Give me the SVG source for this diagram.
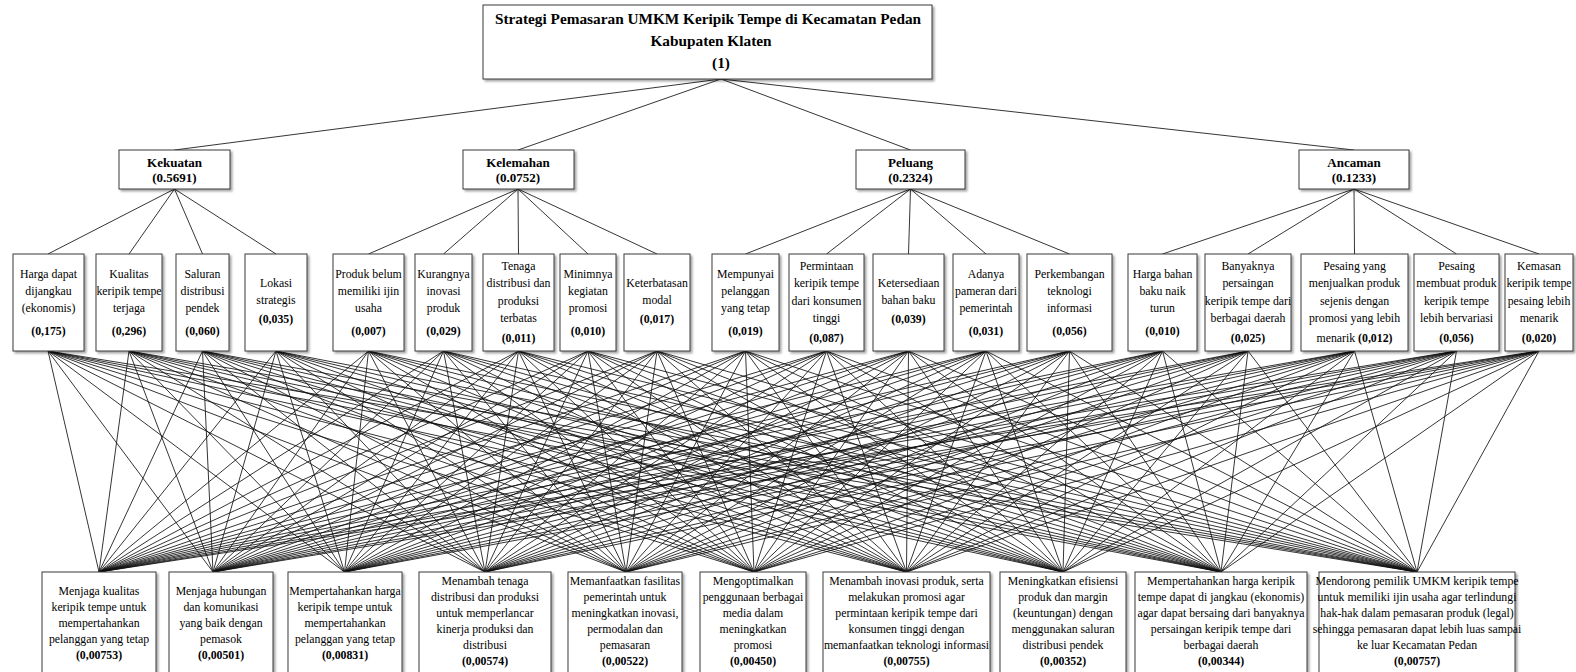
<svg xmlns="http://www.w3.org/2000/svg" width="1576" height="672" viewBox="0 0 1576 672">
<defs>
<filter id="sh" x="-10%" y="-10%" width="130%" height="130%">
<feDropShadow dx="2" dy="2" stdDeviation="1" flood-color="#000" flood-opacity="0.35"/>
</filter>
<style>
.box{fill:#fff;stroke:#3a3a3a;stroke-width:1;filter:url(#sh)}
text{font-family:"Liberation Serif","Times New Roman",serif;fill:#000;text-anchor:middle}
.r{font-size:15.3px;font-weight:bold}
.l1{font-size:13px;font-weight:bold}
.t{font-size:11.8px}
.b{font-weight:bold}
.c{fill:none;stroke:#111;stroke-width:0.85}
</style>
</defs>
<rect width="1576" height="672" fill="#fff"/>

<g id="connectors" class="c">
<path d="M721 79L174.5 150M721 79L518 150M721 79L910.5 150M721 79L1354 150"/>
<path d="M174.5 189L48 254M174.5 189L129 254M174.5 189L202.5 254M174.5 189L276 254"/>
<path d="M518 189L368.5 254M518 189L443.5 254M518 189L518.5 254M518 189L588 254M518 189L657 254"/>
<path d="M910.5 189L745.5 254M910.5 189L826.5 254M910.5 189L908.5 254M910.5 189L986 254M910.5 189L1069.5 254"/>
<path d="M1354 189L1162.5 254M1354 189L1248 254M1354 189L1354.5 254M1354 189L1456.5 254M1354 189L1539 254"/>
<path d="M48 351L99 572M48 351L213 572M48 351L344.5 572M48 351L485 572M48 351L626 572M48 351L754 572M48 351L906.5 572M48 351L1063 572M48 351L1221 572M48 351L1417 572"/>
<path d="M129 351L99 572M129 351L213 572M129 351L344.5 572M129 351L485 572M129 351L626 572M129 351L754 572M129 351L906.5 572M129 351L1063 572M129 351L1221 572M129 351L1417 572"/>
<path d="M202.5 351L99 572M202.5 351L213 572M202.5 351L344.5 572M202.5 351L485 572M202.5 351L626 572M202.5 351L754 572M202.5 351L906.5 572M202.5 351L1063 572M202.5 351L1221 572M202.5 351L1417 572"/>
<path d="M276 351L99 572M276 351L213 572M276 351L344.5 572M276 351L485 572M276 351L626 572M276 351L754 572M276 351L906.5 572M276 351L1063 572M276 351L1221 572M276 351L1417 572"/>
<path d="M368.5 351L99 572M368.5 351L213 572M368.5 351L344.5 572M368.5 351L485 572M368.5 351L626 572M368.5 351L754 572M368.5 351L906.5 572M368.5 351L1063 572M368.5 351L1221 572M368.5 351L1417 572"/>
<path d="M443.5 351L99 572M443.5 351L213 572M443.5 351L344.5 572M443.5 351L485 572M443.5 351L626 572M443.5 351L754 572M443.5 351L906.5 572M443.5 351L1063 572M443.5 351L1221 572M443.5 351L1417 572"/>
<path d="M518.5 351L99 572M518.5 351L213 572M518.5 351L344.5 572M518.5 351L485 572M518.5 351L626 572M518.5 351L754 572M518.5 351L906.5 572M518.5 351L1063 572M518.5 351L1221 572M518.5 351L1417 572"/>
<path d="M588 351L99 572M588 351L213 572M588 351L344.5 572M588 351L485 572M588 351L626 572M588 351L754 572M588 351L906.5 572M588 351L1063 572M588 351L1221 572M588 351L1417 572"/>
<path d="M657 351L99 572M657 351L213 572M657 351L344.5 572M657 351L485 572M657 351L626 572M657 351L754 572M657 351L906.5 572M657 351L1063 572M657 351L1221 572M657 351L1417 572"/>
<path d="M745.5 351L99 572M745.5 351L213 572M745.5 351L344.5 572M745.5 351L485 572M745.5 351L626 572M745.5 351L754 572M745.5 351L906.5 572M745.5 351L1063 572M745.5 351L1221 572M745.5 351L1417 572"/>
<path d="M826.5 351L99 572M826.5 351L213 572M826.5 351L344.5 572M826.5 351L485 572M826.5 351L626 572M826.5 351L754 572M826.5 351L906.5 572M826.5 351L1063 572M826.5 351L1221 572M826.5 351L1417 572"/>
<path d="M908.5 351L99 572M908.5 351L213 572M908.5 351L344.5 572M908.5 351L485 572M908.5 351L626 572M908.5 351L754 572M908.5 351L906.5 572M908.5 351L1063 572M908.5 351L1221 572M908.5 351L1417 572"/>
<path d="M986 351L99 572M986 351L213 572M986 351L344.5 572M986 351L485 572M986 351L626 572M986 351L754 572M986 351L906.5 572M986 351L1063 572M986 351L1221 572M986 351L1417 572"/>
<path d="M1069.5 351L99 572M1069.5 351L213 572M1069.5 351L344.5 572M1069.5 351L485 572M1069.5 351L626 572M1069.5 351L754 572M1069.5 351L906.5 572M1069.5 351L1063 572M1069.5 351L1221 572M1069.5 351L1417 572"/>
<path d="M1162.5 351L99 572M1162.5 351L213 572M1162.5 351L344.5 572M1162.5 351L485 572M1162.5 351L626 572M1162.5 351L754 572M1162.5 351L906.5 572M1162.5 351L1063 572M1162.5 351L1221 572M1162.5 351L1417 572"/>
<path d="M1248 351L99 572M1248 351L213 572M1248 351L344.5 572M1248 351L485 572M1248 351L626 572M1248 351L754 572M1248 351L906.5 572M1248 351L1063 572M1248 351L1221 572M1248 351L1417 572"/>
<path d="M1354.5 351L99 572M1354.5 351L213 572M1354.5 351L344.5 572M1354.5 351L485 572M1354.5 351L626 572M1354.5 351L754 572M1354.5 351L906.5 572M1354.5 351L1063 572M1354.5 351L1221 572M1354.5 351L1417 572"/>
<path d="M1456.5 351L99 572M1456.5 351L213 572M1456.5 351L344.5 572M1456.5 351L485 572M1456.5 351L626 572M1456.5 351L754 572M1456.5 351L906.5 572M1456.5 351L1063 572M1456.5 351L1221 572M1456.5 351L1417 572"/>
<path d="M1539 351L99 572M1539 351L213 572M1539 351L344.5 572M1539 351L485 572M1539 351L626 572M1539 351L754 572M1539 351L906.5 572M1539 351L1063 572M1539 351L1221 572M1539 351L1417 572"/>
</g>

<g id="goal">
<rect class="box" x="483" y="5" width="449" height="74"/>
<text class="r" x="708" y="23.5">Strategi Pemasaran UMKM Keripik Tempe di Kecamatan Pedan</text>
<text class="r" x="711" y="45.5">Kabupaten Klaten</text>
<text class="r" x="721" y="67.5">(1)</text>
</g>

<g id="kekuatan"><rect class="box" x="119" y="150" width="111" height="39"/><text class="l1" x="174.5" y="166.5">Kekuatan</text><text class="l1" x="174.5" y="182">(0.5691)</text></g>
<g id="kelemahan"><rect class="box" x="463" y="150" width="111" height="39"/><text class="l1" x="518" y="166.5">Kelemahan</text><text class="l1" x="518" y="182">(0.0752)</text></g>
<g id="peluang"><rect class="box" x="856" y="150" width="109" height="39"/><text class="l1" x="910.5" y="166.5">Peluang</text><text class="l1" x="910.5" y="182">(0.2324)</text></g>
<g id="ancaman"><rect class="box" x="1299" y="150" width="110" height="39"/><text class="l1" x="1354" y="166.5">Ancaman</text><text class="l1" x="1354" y="182">(0.1233)</text></g>

<g id="s1"><rect class="box" x="13" y="254" width="71" height="97"/><text class="t"><tspan x="48.5" y="277.5">Harga dapat</tspan><tspan x="48.5" y="294.5">dijangkau</tspan><tspan x="48.5" y="311.5">(ekonomis)</tspan><tspan x="48.5" y="335" class="b">(0,175)</tspan></text></g>
<g id="s2"><rect class="box" x="96" y="254" width="66" height="97"/><text class="t"><tspan x="129" y="277.5">Kualitas</tspan><tspan x="129" y="294.5">keripik tempe</tspan><tspan x="129" y="311.5">terjaga</tspan><tspan x="129" y="335" class="b">(0,296)</tspan></text></g>
<g id="s3"><rect class="box" x="176" y="254" width="53" height="97"/><text class="t"><tspan x="202.5" y="277.5">Saluran</tspan><tspan x="202.5" y="294.5">distribusi</tspan><tspan x="202.5" y="311.5">pendek</tspan><tspan x="202.5" y="335" class="b">(0,060)</tspan></text></g>
<g id="s4"><rect class="box" x="245" y="254" width="62" height="97"/><text class="t"><tspan x="276" y="287">Lokasi</tspan><tspan x="276" y="304">strategis</tspan><tspan x="276" y="323" class="b">(0,035)</tspan></text></g>

<g id="w1"><rect class="box" x="333" y="254" width="71" height="97"/><text class="t"><tspan x="368.5" y="277.5">Produk belum</tspan><tspan x="368.5" y="294.5">memiliki ijin</tspan><tspan x="368.5" y="311.5">usaha</tspan><tspan x="368.5" y="335" class="b">(0,007)</tspan></text></g>
<g id="w2"><rect class="box" x="415" y="254" width="57" height="97"/><text class="t"><tspan x="443.5" y="277.5">Kurangnya</tspan><tspan x="443.5" y="294.5">inovasi</tspan><tspan x="443.5" y="311.5">produk</tspan><tspan x="443.5" y="335" class="b">(0,029)</tspan></text></g>
<g id="w3"><rect class="box" x="483" y="254" width="71" height="97"/><text class="t"><tspan x="518.5" y="269.5">Tenaga</tspan><tspan x="518.5" y="287">distribusi dan</tspan><tspan x="518.5" y="304.5">produksi</tspan><tspan x="518.5" y="322">terbatas</tspan><tspan x="518.5" y="342" class="b">(0,011)</tspan></text></g>
<g id="w4"><rect class="box" x="560" y="254" width="56" height="97"/><text class="t"><tspan x="588" y="277.5">Minimnya</tspan><tspan x="588" y="294.5">kegiatan</tspan><tspan x="588" y="311.5">promosi</tspan><tspan x="588" y="335" class="b">(0,010)</tspan></text></g>
<g id="w5"><rect class="box" x="624" y="254" width="66" height="97"/><text class="t"><tspan x="657" y="287">Keterbatasan</tspan><tspan x="657" y="304">modal</tspan><tspan x="657" y="323" class="b">(0,017)</tspan></text></g>

<g id="o1"><rect class="box" x="712" y="254" width="67" height="97"/><text class="t"><tspan x="745.5" y="277.5">Mempunyai</tspan><tspan x="745.5" y="294.5">pelanggan</tspan><tspan x="745.5" y="311.5">yang tetap</tspan><tspan x="745.5" y="335" class="b">(0,019)</tspan></text></g>
<g id="o2"><rect class="box" x="789" y="254" width="75" height="97"/><text class="t"><tspan x="826.5" y="269.5">Permintaan</tspan><tspan x="826.5" y="287">keripik tempe</tspan><tspan x="826.5" y="304.5">dari konsumen</tspan><tspan x="826.5" y="322">tinggi</tspan><tspan x="826.5" y="342" class="b">(0,087)</tspan></text></g>
<g id="o3"><rect class="box" x="873" y="254" width="71" height="97"/><text class="t"><tspan x="908.5" y="287">Ketersediaan</tspan><tspan x="908.5" y="304">bahan baku</tspan><tspan x="908.5" y="323" class="b">(0,039)</tspan></text></g>
<g id="o4"><rect class="box" x="953" y="254" width="66" height="97"/><text class="t"><tspan x="986" y="277.5">Adanya</tspan><tspan x="986" y="294.5">pameran dari</tspan><tspan x="986" y="311.5">pemerintah</tspan><tspan x="986" y="335" class="b">(0,031)</tspan></text></g>
<g id="o5"><rect class="box" x="1027" y="254" width="85" height="97"/><text class="t"><tspan x="1069.5" y="277.5">Perkembangan</tspan><tspan x="1069.5" y="294.5">teknologi</tspan><tspan x="1069.5" y="311.5">informasi</tspan><tspan x="1069.5" y="335" class="b">(0,056)</tspan></text></g>

<g id="a1"><rect class="box" x="1128" y="254" width="69" height="97"/><text class="t"><tspan x="1162.5" y="277.5">Harga bahan</tspan><tspan x="1162.5" y="294.5">baku naik</tspan><tspan x="1162.5" y="311.5">turun</tspan><tspan x="1162.5" y="335" class="b">(0,010)</tspan></text></g>
<g id="a2"><rect class="box" x="1205" y="254" width="86" height="97"/><text class="t"><tspan x="1248" y="269.5">Banyaknya</tspan><tspan x="1248" y="287">persaingan</tspan><tspan x="1248" y="304.5">keripik tempe dari</tspan><tspan x="1248" y="322">berbagai daerah</tspan><tspan x="1248" y="342" class="b">(0,025)</tspan></text></g>
<g id="a3"><rect class="box" x="1301" y="254" width="107" height="97"/><text class="t"><tspan x="1354.5" y="269.5">Pesaing yang</tspan><tspan x="1354.5" y="287">menjualkan produk</tspan><tspan x="1354.5" y="304.5">sejenis dengan</tspan><tspan x="1354.5" y="322">promosi yang lebih</tspan><tspan x="1354.5" y="342">menarik <tspan class="b">(0,012)</tspan></tspan></text></g>
<g id="a4"><rect class="box" x="1414" y="254" width="85" height="97"/><text class="t"><tspan x="1456.5" y="269.5">Pesaing</tspan><tspan x="1456.5" y="287">membuat produk</tspan><tspan x="1456.5" y="304.5">keripik tempe</tspan><tspan x="1456.5" y="322">lebih bervariasi</tspan><tspan x="1456.5" y="342" class="b">(0,056)</tspan></text></g>
<g id="a5"><rect class="box" x="1505" y="254" width="68" height="97"/><text class="t"><tspan x="1539" y="269.5">Kemasan</tspan><tspan x="1539" y="287">keripik tempe</tspan><tspan x="1539" y="304.5">pesaing lebih</tspan><tspan x="1539" y="322">menarik</tspan><tspan x="1539" y="342" class="b">(0,020)</tspan></text></g>

<g id="k1"><rect class="box" x="42" y="572" width="114" height="110"/><text class="t"><tspan x="99" y="594.5">Menjaga kualitas</tspan><tspan x="99" y="610.5">keripik tempe untuk</tspan><tspan x="99" y="626.5">mempertahankan</tspan><tspan x="99" y="642.5">pelanggan yang tetap</tspan><tspan x="99" y="659" class="b">(0,00753)</tspan></text></g>
<g id="k2"><rect class="box" x="169" y="572" width="104" height="110"/><text class="t"><tspan x="221" y="594.5">Menjaga hubungan</tspan><tspan x="221" y="610.5">dan komunikasi</tspan><tspan x="221" y="626.5">yang baik dengan</tspan><tspan x="221" y="642.5">pemasok</tspan><tspan x="221" y="659" class="b">(0,00501)</tspan></text></g>
<g id="k3"><rect class="box" x="288" y="572" width="114" height="110"/><text class="t"><tspan x="345" y="594.5">Mempertahankan harga</tspan><tspan x="345" y="610.5">keripik tempe untuk</tspan><tspan x="345" y="626.5">mempertahankan</tspan><tspan x="345" y="642.5">pelanggan yang tetap</tspan><tspan x="345" y="659" class="b">(0,00831)</tspan></text></g>
<g id="k4"><rect class="box" x="419" y="572" width="132" height="110"/><text class="t"><tspan x="485" y="585">Menambah tenaga</tspan><tspan x="485" y="601">distribusi dan produksi</tspan><tspan x="485" y="617">untuk memperlancar</tspan><tspan x="485" y="633">kinerja produksi dan</tspan><tspan x="485" y="649">distribusi</tspan><tspan x="485" y="665" class="b">(0,00574)</tspan></text></g>
<g id="k5"><rect class="box" x="568" y="572" width="114" height="110"/><text class="t"><tspan x="625" y="585">Memanfaatkan fasilitas</tspan><tspan x="625" y="601">pemerintah untuk</tspan><tspan x="625" y="617">meningkatkan inovasi,</tspan><tspan x="625" y="633">permodalan dan</tspan><tspan x="625" y="649">pemasaran</tspan><tspan x="625" y="665" class="b">(0,00522)</tspan></text></g>
<g id="k6"><rect class="box" x="700" y="572" width="106" height="110"/><text class="t"><tspan x="753" y="585">Mengoptimalkan</tspan><tspan x="753" y="601">penggunaan berbagai</tspan><tspan x="753" y="617">media dalam</tspan><tspan x="753" y="633">meningkatkan</tspan><tspan x="753" y="649">promosi</tspan><tspan x="753" y="665" class="b">(0,00450)</tspan></text></g>
<g id="k7"><rect class="box" x="823" y="572" width="167" height="110"/><text class="t"><tspan x="906.5" y="585">Menambah inovasi produk, serta</tspan><tspan x="906.5" y="601">melakukan promosi agar</tspan><tspan x="906.5" y="617">permintaan keripik tempe dari</tspan><tspan x="906.5" y="633">konsumen tinggi dengan</tspan><tspan x="906.5" y="649">memanfaatkan teknologi informasi</tspan><tspan x="906.5" y="665" class="b">(0,00755)</tspan></text></g>
<g id="k8"><rect class="box" x="1000" y="572" width="126" height="110"/><text class="t"><tspan x="1063" y="585">Meningkatkan efisiensi</tspan><tspan x="1063" y="601">produk dan margin</tspan><tspan x="1063" y="617">(keuntungan) dengan</tspan><tspan x="1063" y="633">menggunakan saluran</tspan><tspan x="1063" y="649">distribusi pendek</tspan><tspan x="1063" y="665" class="b">(0,00352)</tspan></text></g>
<g id="k9"><rect class="box" x="1135" y="572" width="172" height="110"/><text class="t"><tspan x="1221" y="585">Mempertahankan harga keripik</tspan><tspan x="1221" y="601">tempe dapat di jangkau (ekonomis)</tspan><tspan x="1221" y="617">agar dapat bersaing dari banyaknya</tspan><tspan x="1221" y="633">persaingan keripik tempe dari</tspan><tspan x="1221" y="649">berbagai daerah</tspan><tspan x="1221" y="665" class="b">(0,00344)</tspan></text></g>
<g id="k10"><rect class="box" x="1319" y="572" width="196" height="110"/><text class="t"><tspan x="1417" y="585">Mendorong pemilik UMKM keripik tempe</tspan><tspan x="1417" y="601">untuk memiliki ijin usaha agar terlindungi</tspan><tspan x="1417" y="617">hak-hak dalam pemasaran produk (legal)</tspan><tspan x="1417" y="633">sehingga pemasaran dapat lebih luas sampai</tspan><tspan x="1417" y="649">ke luar Kecamatan Pedan</tspan><tspan x="1417" y="665" class="b">(0,00757)</tspan></text></g>
</svg>
